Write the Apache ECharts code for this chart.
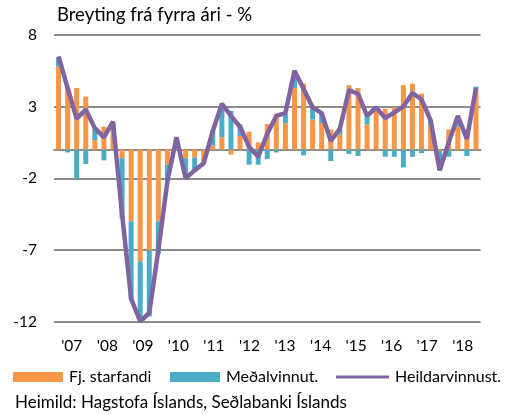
<!DOCTYPE html>
<html>
<head>
<meta charset="utf-8">
<script src="https://cdn.jsdelivr.net/npm/echarts@6/dist/echarts.min.js"></script>
<style>
  html, body { margin: 0; padding: 0; background: #fff; }
  #chart { width: 528px; height: 415px; }
</style>
</head>
<body>
<div id="chart"></div>
<script>
// ársfjórðungar 2007Q1 - 2018Q3
const years = ["'07", "'08", "'09", "'10", "'11", "'12", "'13", "'14", "'15", "'16", "'17", "'18"]
const quarters = []
years.forEach(y => ['Q1', 'Q2', 'Q3', 'Q4'].forEach(q => quarters.push(y + q)))
quarters.length = 47

const yTicks = [-12, -7, -2, 3, 8]

// Fj. starfandi
const starfandi = [
    5.8, 4.3, 4.3, 3.7, 0.65, 1.6, 1.85, -0.6,
    -5.0, -7.8, -7.05, -5.0, -1.05, 0.9, -0.6, -0.55,
    -0.9, 0.3, 0.85, -0.35, 0.95, 1.25, 0.5, 1.8,
    2.5, 1.85, 4.3, 4.6, 2.1, 1.85, 1.4, 1.05,
    4.5, 4.3, 1.75, 2.8, 2.85, 2.95, 4.5, 4.6,
    3.9, 1.75, -0.1, 1.4, 1.6, 1.4, 4.25
]

// Meðalvinnut.
const medalvinnut = [
    0.6, -0.2, -2.05, -1.0, 0.8, -0.75, 0.05, -4.2,
    -5.45, -4.2, -4.6, -2.3, -1.15, -0.05, -1.4, -1.0,
    -0.05, 1.05, 2.0, 2.7, 0.8, -1.05, -1.05, -0.65,
    -0.2, 0.65, 1.05, -0.4, 0.8, 0.7, -0.8, 0.35,
    -0.3, -0.45, 0.7, 0.05, -0.5, -0.5, -1.25, -0.5,
    -0.25, 0.3, -1.3, -0.5, 0.3, -0.45, 0.15
]

// Heildarvinnust.
const heildarvinnust = [
    6.5, 4.3, 2.15, 2.8, 1.5, 0.85, 1.95, -4.5,
    -10.4, -12.0, -11.4, -7.0, -2.2, 0.85, -2.0, -1.45,
    -0.95, 1.3, 3.2, 2.35, 1.6, 0.2, -0.5, 1.1,
    2.35, 2.55, 5.5, 4.25, 2.95, 2.55, 0.6, 1.45,
    4.15, 3.9, 2.35, 2.95, 2.2, 2.6, 3.0, 3.95,
    3.5, 2.05, -1.45, 0.5, 2.35, 0.75, 4.3
]

const font = 'Lato, "Open Sans", sans-serif'
const gridGray = '#8c8c8c'
const purple = '#8064A2'

const chart = echarts.init(document.getElementById('chart'))

const legendBase = (left, item, w, h) => ({
    left: left,
    top: 369,
    itemWidth: w,
    itemHeight: h,
    itemGap: 0,
    padding: 0,
    data: [item],
    textStyle: {fontFamily: font, fontSize: 16, color: '#000', padding: [0, 0, 0, 1]},
})

const option = {
    animation: false,
    title: {
        text: 'Breyting frá fyrra ári - %',
        left: 57,
        top: 6,
        padding: 0,
        textStyle: {fontFamily: font, fontSize: 18.5, fontWeight: 'normal', color: '#000'},
    },
    legend: [
        legendBase(13, {name: 'Fj. starfandi', icon: 'rect'}, 50, 10),
        legendBase(170, {name: 'Meðalvinnut.', icon: 'rect'}, 50, 10),
        legendBase(336, {name: 'Heildarvinnust.', icon: 'path://M0,0L53,0L53,3L0,3Z', itemStyle: {color: purple}}, 53, 10),
    ],
    grid: {
        left: 54,
        right: 47.5,
        top: 35,
        bottom: 93.5,
        containLabel: false,
    },
    xAxis: [
        {
            type: 'category',
            data: quarters,
            boundaryGap: true,
            axisLine: {show: true, onZero: true, lineStyle: {color: gridGray, width: 2}},
            axisTick: {show: false},
            axisLabel: {show: false},
            splitLine: {show: false},
        },
        {
            type: 'category',
            data: years,
            position: 'bottom',
            boundaryGap: true,
            axisLine: {show: false, onZero: false},
            axisTick: {show: false},
            axisLabel: {fontFamily: font, fontSize: 15.5, color: '#000', margin: 16},
            splitLine: {show: false},
        },
    ],
    yAxis: {
        type: 'value',
        min: -12,
        max: 8,
        axisLine: {show: false},
        axisTick: {show: false, customValues: yTicks},
        axisLabel: {fontFamily: font, fontSize: 15.5, color: '#000', margin: 17, customValues: yTicks},
        splitLine: {show: true, lineStyle: {color: gridGray, width: 2}},
    },
    series: [
        {
            name: 'Fj. starfandi',
            type: 'bar',
            stack: 'vinna',
            barWidth: 5,
            itemStyle: {color: '#F79646'},
            data: starfandi,
        },
        {
            name: 'Meðalvinnut.',
            type: 'bar',
            stack: 'vinna',
            barWidth: 5,
            itemStyle: {color: '#4BACC6'},
            data: medalvinnut,
        },
        {
            name: 'Heildarvinnust.',
            type: 'line',
            symbol: 'none',
            z: 5,
            lineStyle: {color: purple, width: 4.5},
            itemStyle: {color: purple},
            data: heildarvinnust,
        },
    ],
    graphic: [{
        type: 'text',
        left: 15,
        top: 394,
        style: {
            text: 'Heimild: Hagstofa Íslands, Seðlabanki Íslands',
            fontFamily: font,
            fontSize: 17,
            fill: '#000',
        },
    }],
}

chart.setOption(option)
</script>
</body>
</html>
